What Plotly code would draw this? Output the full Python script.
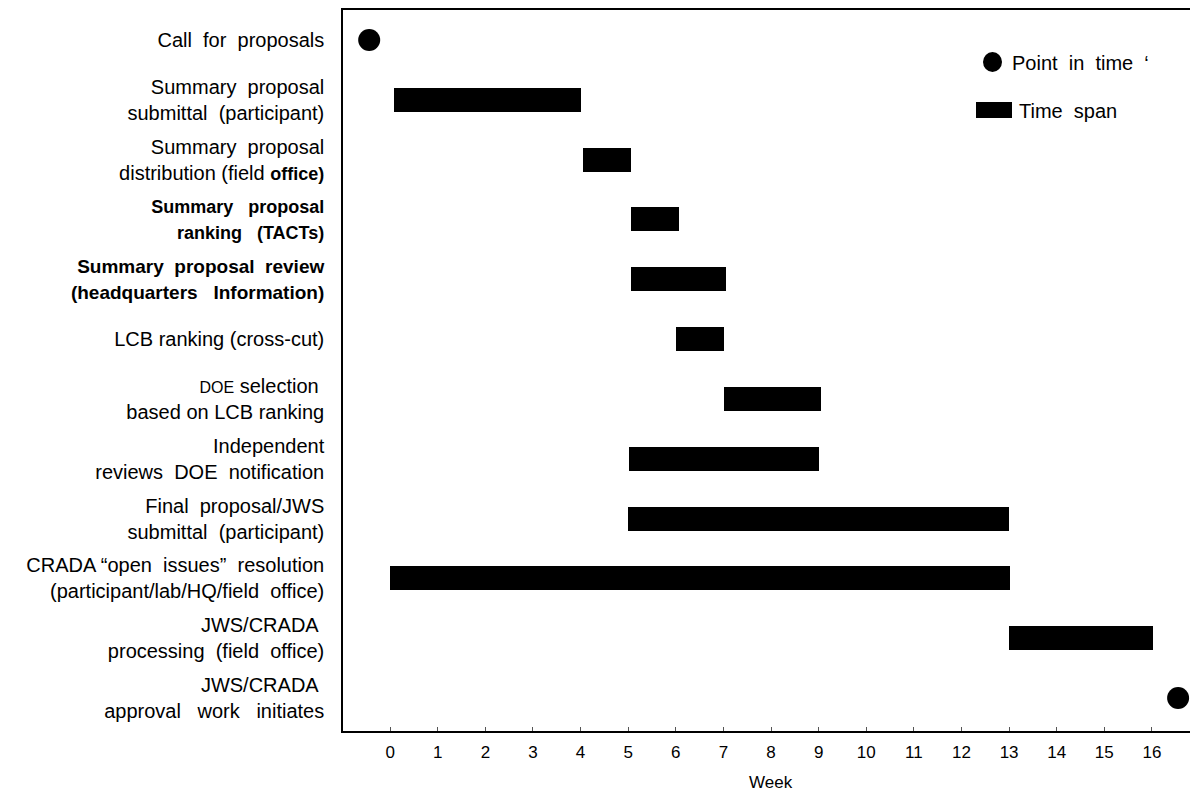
import plotly.graph_objects as go

tasks = [
    "Call\u00a0 for\u00a0 proposals",
    "Summary\u00a0 proposal<br>submittal\u00a0 (participant)",
    "Summary\u00a0 proposal<br>distribution (field <b><span style='font-size:18px'>office)</span></b>",
    "<b><span style='font-size:18px'>Summary\u00a0\u00a0 proposal<br>ranking\u00a0\u00a0 (TACTs)</span></b>",
    "<b><span style='font-size:19px'>Summary\u00a0 proposal\u00a0 review<br>(headquarters\u00a0\u00a0 Information)</span></b>",
    "LCB ranking (cross-cut)",
    "<span style='font-size:16px'>DOE</span> selection\u00a0<br>based on LCB ranking",
    "Independent<br>reviews\u00a0 DOE\u00a0 notification",
    "Final\u00a0 proposal/JWS<br>submittal\u00a0 (participant)",
    "CRADA \u201copen\u00a0 issues\u201d\u00a0 resolution<br>(participant/lab/HQ/field\u00a0 office)",
    "JWS/CRADA\u00a0<br>processing\u00a0 (field\u00a0 office)",
    "JWS/CRADA\u00a0<br>approval\u00a0\u00a0 work\u00a0\u00a0 initiates",
]
span_rows = [1, 2, 3, 4, 5, 6, 7, 8, 9, 10]
span_start = [0.08, 4.05, 5.05, 5.05, 6.0, 7.02, 5.02, 5.0, 0.0, 13.0]
span_end = [4.0, 5.05, 6.07, 7.06, 7.02, 9.05, 9.0, 13.0, 13.02, 16.03]
point_rows = [0, 11]
point_week = [-0.44, 16.55]
week_ticks = list(range(0, 17))

fig = go.Figure()
fig.add_trace(go.Bar(
    y=span_rows,
    x=[e - s for s, e in zip(span_start, span_end)],
    base=span_start,
    orientation="h",
    width=0.4,
    marker=dict(color="black", line=dict(width=0)),
    showlegend=False,
))
fig.add_trace(go.Scatter(
    y=point_rows, x=point_week, mode="markers",
    marker=dict(symbol="circle", size=22, color="black"),
    cliponaxis=False,
    showlegend=False,
))

W, H = 1190, 795
L, R, T, B = 343, 1190, 10, 731
def px(x):
    return (x - L) / (R - L)
def py(y):
    return (B - y) / (B - T)

# legend glyphs
fig.add_shape(type="circle", xref="paper", yref="paper",
              x0=px(983), x1=px(1002), y0=py(52), y1=py(72),
              fillcolor="black", line=dict(width=0))
fig.add_shape(type="rect", xref="paper", yref="paper",
              x0=px(976), x1=px(1012), y0=py(102), y1=py(118),
              fillcolor="black", line=dict(width=0))
fig.add_annotation(xref="paper", yref="paper", x=px(1010), y=py(63),
                   text="Point\u00a0 in\u00a0 time\u00a0 \u2018", showarrow=False,
                   xanchor="left", yanchor="middle",
                   font=dict(size=20, color="black"))
fig.add_annotation(xref="paper", yref="paper", x=px(1017), y=py(111),
                   text="Time\u00a0 span", showarrow=False,
                   xanchor="left", yanchor="middle",
                   font=dict(size=20, color="black"))
fig.add_annotation(xref="paper", yref="paper", x=px(771), y=py(782),
                   text="Week", showarrow=False,
                   xanchor="center", yanchor="middle",
                   font=dict(size=17, color="black"))

fig.update_layout(
    width=W, height=H,
    margin=dict(l=L, r=W - R, t=T, b=H - B),
    paper_bgcolor="white", plot_bgcolor="white",
    font=dict(family="Liberation Sans, Arial, sans-serif", size=20, color="black"),
    bargap=0,
)
fig.update_xaxes(
    range=[-0.99, 16.8],
    tickvals=week_ticks, ticktext=[str(v) for v in week_ticks],
    showgrid=False, zeroline=False,
    showline=True, linecolor="black", linewidth=1.5, mirror=True,
    ticks="inside", ticklen=4, tickcolor="#555",
    tickfont=dict(size=17), ticklabelstandoff=5,
)
fig.update_yaxes(
    range=[11.55, -0.5],
    tickvals=list(range(len(tasks))), ticktext=tasks,
    showgrid=False, zeroline=False,
    showline=True, linecolor="black", linewidth=1.5,
    ticks="", ticklabelstandoff=13,
    tickfont=dict(size=20),
)
fig.write_html(
    "out.html",
    config={"displayModeBar": False},
    post_script="document.body.style.margin='0';document.body.style.overflow='hidden';",
)
